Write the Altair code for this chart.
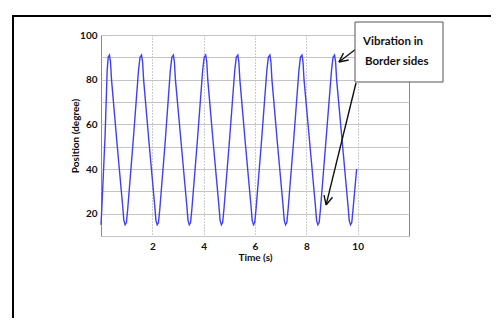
import altair as alt
import pandas as pd
import math

# ---- data ----
time_s = [
    0.00, 0.03, 0.16, 0.24, 0.28, 0.33, 0.37, 0.41, 0.62, 0.84, 0.89, 0.94, 0.99, 1.04, 1.25,
    1.46, 1.52, 1.58, 1.62, 1.66, 1.87, 2.09, 2.14, 2.19, 2.24, 2.29, 2.50,
    2.70, 2.76, 2.82, 2.86, 2.90, 3.12, 3.34, 3.39, 3.44, 3.49, 3.54, 3.75,
    3.96, 4.02, 4.08, 4.12, 4.16, 4.37, 4.59, 4.64, 4.69, 4.74, 4.79, 5.00,
    5.21, 5.27, 5.33, 5.37, 5.41, 5.62, 5.84, 5.89, 5.94, 5.99, 6.04, 6.25,
    6.46, 6.52, 6.58, 6.62, 6.66, 6.87, 7.09, 7.14, 7.19, 7.24, 7.29, 7.50,
    7.71, 7.77, 7.83, 7.87, 7.91, 8.13, 8.35, 8.40, 8.45, 8.50, 8.55, 8.76,
    8.98, 9.04, 9.10, 9.14, 9.18, 9.40, 9.62, 9.67, 9.72, 9.77, 9.82, 9.96,
]
position_deg = [
    15, 22, 55, 84, 90, 91, 88, 80, 52, 24, 17, 15, 16, 22, 52,
    84, 90, 91, 88, 80, 52, 24, 17, 15, 16, 22, 52,
    84, 90, 91, 88, 80, 52, 24, 17, 15, 16, 22, 52,
    84, 90, 91, 88, 80, 52, 24, 17, 15, 16, 22, 52,
    84, 90, 91, 88, 80, 52, 24, 17, 15, 16, 22, 52,
    84, 90, 91, 88, 80, 52, 24, 17, 15, 16, 22, 52,
    84, 90, 91, 88, 80, 52, 24, 17, 15, 16, 22, 52,
    84, 90, 91, 88, 80, 52, 24, 17, 15, 16, 22, 40,
]
x_ticks = [2, 4, 6, 8, 10]
y_ticks = [10, 20, 30, 40, 50, 60, 70, 80, 90, 100]
annotation_lines = ["Vibration in", "Border sides"]
# arrow tips in data coordinates (time, position)
arrow_tips = [(9.27, 87.9), (8.77, 23.9)]

# ---- layout ----
W, H = 308, 201
X_DOM = [0, 12]
Y_DOM = [10, 100]
FONT = "Lato"
PAD = {"left": 93, "top": 27, "right": 82, "bottom": 82}


def px(t):
    return (t - X_DOM[0]) / (X_DOM[1] - X_DOM[0]) * W


def py(v):
    return (Y_DOM[1] - v) / (Y_DOM[1] - Y_DOM[0]) * H


df = pd.DataFrame({"t": time_s, "p": position_deg})

line = alt.Chart(df).mark_line(color="#4040ee", strokeWidth=1.4).encode(
    x=alt.X(
        "t:Q",
        scale=alt.Scale(domain=X_DOM, nice=False, zero=False),
        axis=alt.Axis(
            values=x_ticks, title="Time (s)", grid=True, gridDash=[1, 2],
            gridColor="#9a9a9a", domain=False, ticks=False, labelPadding=5,
            titlePadding=1,
        ),
    ),
    y=alt.Y(
        "p:Q",
        scale=alt.Scale(domain=Y_DOM, nice=False, zero=False),
        axis=alt.Axis(
            values=y_ticks, title="Position (degree)", grid=True,
            gridColor="#c4c4c4", domain=False, ticks=False, labelPadding=4,
            labelExpr="datum.value % 20 == 0 ? datum.label : ''",
            titlePadding=-1,
        ),
    ),
)

# figure frame: only left and top edges are visible in the crop
frame_df = pd.DataFrame([
    {"x": -88, "x2": -88, "y": -19, "y2": H + PAD["bottom"]},
    {"x": -89, "x2": W + PAD["right"], "y": -19, "y2": -19},
])
frame = alt.Chart(frame_df).mark_rule(color="black", strokeWidth=2).encode(
    x=alt.X("x:Q", scale=None), x2="x2:Q",
    y=alt.Y("y:Q", scale=None), y2="y2:Q",
)

# arrows
segs = []
tails = [(255, 14), (255, 48)]
for (tt, tv), (tx, ty) in zip(arrow_tips, tails):
    hx, hy = px(tt), py(tv)
    segs.append({"x": tx, "y": ty, "x2": hx, "y2": hy})
    ang = math.atan2(ty - hy, tx - hx)
    for d in (0.45, -0.45):
        segs.append({"x": hx, "y": hy,
                     "x2": hx + 10 * math.cos(ang + d),
                     "y2": hy + 10 * math.sin(ang + d)})
arrows = alt.Chart(pd.DataFrame(segs)).mark_rule(
    color="#111111", strokeWidth=1.4
).encode(
    x=alt.X("x:Q", scale=None), x2="x2:Q",
    y=alt.Y("y:Q", scale=None), y2="y2:Q",
)

box_df = pd.DataFrame([{"x": 254, "x2": 342, "y": -13, "y2": 47}])
box = alt.Chart(box_df).mark_rect(
    fill="white", stroke="#555555", strokeWidth=1
).encode(
    x=alt.X("x:Q", scale=None), x2="x2:Q",
    y=alt.Y("y:Q", scale=None), y2="y2:Q",
)

text_df = pd.DataFrame({
    "label": annotation_lines,
    "x": [262, 264],
    "y": [7, 27],
})
texts = alt.Chart(text_df).mark_text(
    align="left", baseline="middle", font=FONT, fontWeight="bold",
    fontSize=11.5, color="#111111"
).encode(
    x=alt.X("x:Q", scale=None), y=alt.Y("y:Q", scale=None), text="label:N"
)

chart = alt.layer(frame, line, arrows, box, texts).properties(
    width=W, height=H, autosize="none", padding=PAD,
).configure_view(
    stroke="#8a8a8a", strokeWidth=1
).configure_axis(
    labelFont=FONT, labelFontWeight="bold", labelFontSize=10, labelColor="#111111",
    titleFont=FONT, titleFontWeight="bold", titleFontSize=10, titleColor="#111111",
)

chart.save("out.html", embed_options={"renderer": "svg", "actions": False})
